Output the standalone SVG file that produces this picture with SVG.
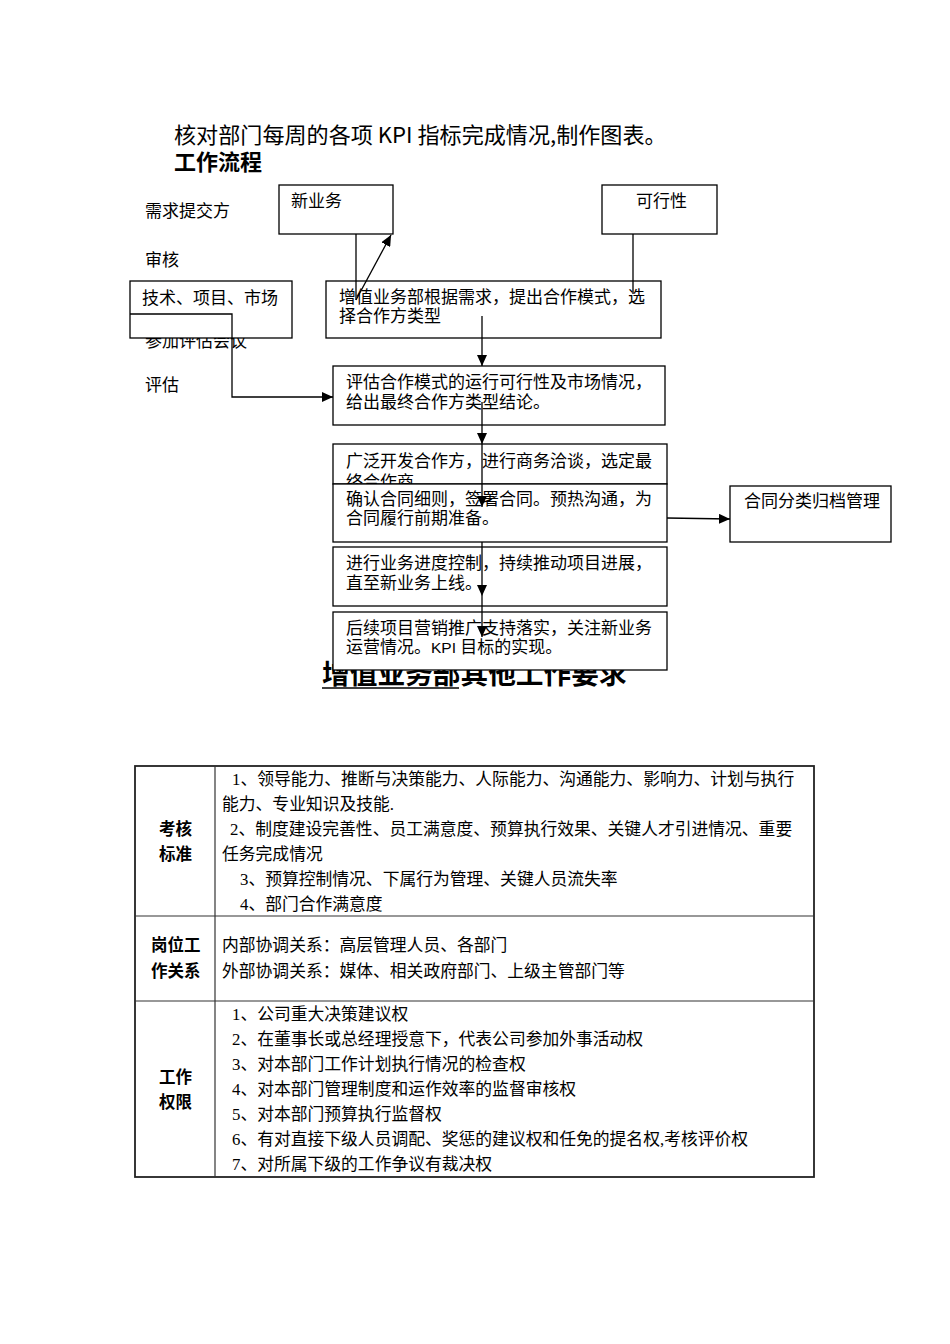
<svg xmlns="http://www.w3.org/2000/svg" width="950" height="1344" viewBox="0 0 950 1344">
<style>
text{font-family:"Liberation Serif","Noto Sans CJK SC",serif;fill:#000;}
.f{font-size:17px;}
.hd{font-family:"Noto Sans CJK SC",sans-serif;}
.t{font-size:16.8px;}
.lbl{font-family:"Noto Sans CJK SC",sans-serif;font-size:16.5px;font-weight:600;}
.box{fill:#fff;stroke:#000;stroke-width:1.3;}
.ln{fill:none;stroke:#000;stroke-width:1.3;}
.tb{fill:none;stroke:#222;stroke-width:1.8;}
.tl{fill:none;stroke:#333;stroke-width:1.2;}
</style>
<defs>
<marker id="ah" markerUnits="userSpaceOnUse" markerWidth="12" markerHeight="10" refX="11" refY="5" orient="auto">
<path d="M0,0 L11,5 L0,10 Z" fill="#000"/>
</marker>
</defs>
<rect width="950" height="1344" fill="#fff"/>
<g id="header">
<text x="174" y="143" class="hd" style="font-size:22.1px">核对部门每周的各项 KPI 指标完成情况,制作图表。</text>
<text x="174" y="170" class="hd" style="font-size:22px;font-weight:bold">工作流程</text>
</g>
<g id="side-labels" class="f">
<text x="145" y="217">需求提交方</text>
<text x="145" y="266">审核</text>
<text x="145" y="347">参加评估会议</text>
<text x="145" y="391">评估</text>
</g>
<g id="title2">
<text x="322" y="684" class="hd" style="font-size:27.7px;font-weight:bold">增值业务部其他工作要求</text>
<line x1="322" y1="688" x2="459" y2="688" stroke="#000" stroke-width="1.5"/>
</g>
<g id="n-xinyewu"><rect class="box" x="279" y="185" width="114" height="49"/><text class="f" x="291" y="207">新业务</text></g>
<g id="n-kexingxing"><rect class="box" x="602" y="185" width="115" height="49"/><text class="f" x="636" y="207">可行性</text></g>
<g id="n-jishu"><rect class="box" x="130" y="281" width="162" height="57"/><text class="f" x="142" y="304">技术、项目、市场</text></g>
<g id="n-zengzhi"><rect class="box" x="326" y="281" width="335" height="57"/><text class="f" x="339" y="303">增值业务部根据需求，提出合作模式，选</text><text class="f" x="339" y="322">择合作方类型</text></g>
<g id="n-pinggu"><rect class="box" x="333" y="366" width="332" height="59"/><text class="f" x="346" y="388">评估合作模式的运行可行性及市场情况，</text><text class="f" x="346" y="408">给出最终合作方类型结论。</text></g>
<g id="n-guangfan"><rect class="box" x="333" y="444" width="334" height="40"/><text class="f" x="346" y="467">广泛开发合作方，进行商务洽谈，选定最</text><text class="f" x="346" y="488">终合作商</text></g>
<g id="n-queren"><rect class="box" x="333" y="484" width="334" height="58"/><text class="f" x="346" y="505">确认合同细则，签署合同。预热沟通，为</text><text class="f" x="346" y="524">合同履行前期准备。</text></g>
<g id="n-jinxing"><rect class="box" x="333" y="547" width="334" height="59"/><text class="f" x="346" y="569">进行业务进度控制，持续推动项目进展，</text><text class="f" x="346" y="589">直至新业务上线。</text></g>
<g id="n-houxu"><rect class="box" x="333" y="612" width="334" height="58"/><text class="f" x="346" y="634">后续项目营销推广支持落实，关注新业务</text><text class="f" x="346" y="653">运营情况。<tspan font-family="Liberation Sans,sans-serif" font-size="15.5">KPI</tspan> 目标的实现。</text></g>
<g id="n-hetong"><rect class="box" x="730" y="486" width="161" height="56"/><text class="f" x="744" y="507">合同分类归档管理</text></g>
<g id="connectors">
<line class="ln" x1="356" y1="234" x2="356" y2="300"/>
<line class="ln" x1="356" y1="300" x2="391" y2="235" marker-end="url(#ah)"/>
<line class="ln" x1="633" y1="234" x2="633" y2="294"/>
<polyline class="ln" points="130,314 232,314 232,397 333,397" marker-end="url(#ah)"/>
<line class="ln" x1="482" y1="316" x2="482" y2="366" marker-end="url(#ah)"/>
<line class="ln" x1="482" y1="402" x2="482" y2="444" marker-end="url(#ah)"/>
<line class="ln" x1="482" y1="444" x2="482" y2="507" marker-end="url(#ah)"/>
<line class="ln" x1="482" y1="542" x2="482" y2="596" marker-end="url(#ah)"/>
<line class="ln" x1="482" y1="596" x2="482" y2="637" marker-end="url(#ah)"/>
<line class="ln" x1="667" y1="518" x2="730" y2="519" marker-end="url(#ah)"/>
</g>
<g id="table">
<rect class="tb" x="135" y="766" width="679" height="411"/>
<line class="tl" x1="215" y1="766" x2="215" y2="1177"/>
<line class="tl" x1="135" y1="916" x2="814" y2="916"/>
<line class="tl" x1="135" y1="1001" x2="814" y2="1001"/>
<g class="lbl">
<text x="159" y="835">考核</text>
<text x="159" y="860">标准</text>
<text x="151" y="951">岗位工</text>
<text x="151" y="977">作关系</text>
<text x="159" y="1083">工作</text>
<text x="159" y="1108">权限</text>
</g>
<g class="t">
<text x="232" y="785">1、领导能力、推断与决策能力、人际能力、沟通能力、影响力、计划与执行</text>
<text x="222" y="810">能力、专业知识及技能.</text>
<text x="230" y="835">2、制度建设完善性、员工满意度、预算执行效果、关键人才引进情况、重要</text>
<text x="222" y="860">任务完成情况</text>
<text x="240" y="885">3、预算控制情况、下属行为管理、关键人员流失率</text>
<text x="240" y="910">4、部门合作满意度</text>
<text x="222" y="951">内部协调关系：高层管理人员、各部门</text>
<text x="222" y="977">外部协调关系：媒体、相关政府部门、上级主管部门等</text>
<text x="232" y="1020">1、公司重大决策建议权</text>
<text x="232" y="1045">2、在董事长或总经理授意下，代表公司参加外事活动权</text>
<text x="232" y="1070">3、对本部门工作计划执行情况的检查权</text>
<text x="232" y="1095">4、对本部门管理制度和运作效率的监督审核权</text>
<text x="232" y="1120">5、对本部门预算执行监督权</text>
<text x="232" y="1145">6、有对直接下级人员调配、奖惩的建议权和任免的提名权,考核评价权</text>
<text x="232" y="1170">7、对所属下级的工作争议有裁决权</text>
</g>
</g>
</svg>
